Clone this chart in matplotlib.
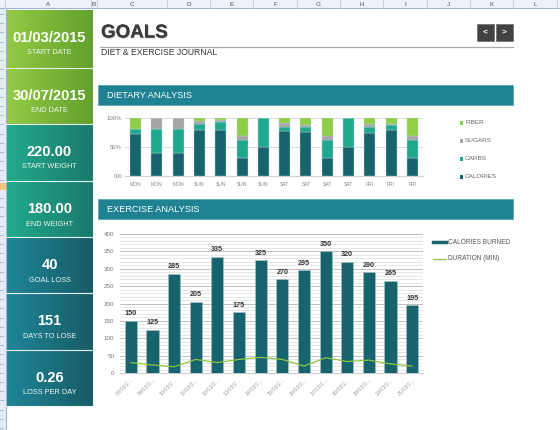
import numpy as np
import matplotlib

matplotlib.use('Agg')
import matplotlib.pyplot as plt
from matplotlib.colors import LinearSegmentedColormap
from matplotlib.patches import Rectangle
import matplotlib.patheffects as pe

plt.rcParams['font.family'] = ['Liberation Sans', 'DejaVu Sans']

W, H = 560, 430

# ── 数据 ──────────────────────────────────────────────
card_values = ['01/03/2015', '30/07/2015', '220.00', '180.00', '40', '151', '0.26']
card_labels = ['START DATE', 'END DATE', 'START WEIGHT', 'END WEIGHT',
               'GOAL LOSS', 'DAYS TO LOSE', 'LOSS PER DAY']

diet_days = ['MON', 'MON', 'MON', 'SUN', 'SUN', 'SUN', 'SUN',
             'SAT', 'SAT', 'SAT', 'SAT', 'FRI', 'FRI', 'FRI']
calories = [73, 40, 40, 79, 79, 31, 50, 78, 76, 31, 50, 74, 80, 31]
carbs = [8, 41, 41, 11, 14, 31, 50, 7, 8, 31, 50, 10, 8, 31]
sugars = [0, 19, 19, 5, 3, 7, 0, 7, 4, 7, 0, 6, 2, 7]
fiber = [19, 0, 0, 5, 4, 31, 0, 8, 12, 31, 0, 10, 10, 31]

ex_dates = ['08/03/2...', '09/03/2...', '10/03/2...', '11/03/2...', '12/03/2...',
            '13/03/2...', '14/03/2...', '15/03/2...', '16/03/2...', '17/03/2...',
            '18/03/2...', '19/03/2...', '20/03/2...', '21/03/2...']
cal_burned = [150, 125, 285, 205, 335, 175, 325, 270, 295, 350, 320, 290, 265, 195]
duration = [30, 23, 18, 39, 30, 39, 45, 39, 20, 44, 33, 37, 26, 20]

col_letters = ['A', 'B', 'C', 'D', 'E', 'F', 'G', 'H', 'I', 'J', 'K', 'L']
col_edges = [5, 91, 97, 167, 210, 253, 297, 340, 383, 427, 470, 513, 557]

C_DARK = '#17636e'
C_CARBS = '#1fa88e'
C_SUGAR = '#a6a6a6'
C_FIBER = '#8fcf46'
C_BANNER = '#1f8293'

fig = plt.figure(figsize=(W / 100, H / 100), dpi=100)
fig.patch.set_facecolor('white')

bg = fig.add_axes([0, 0, 1, 1])
bg.axis('off')


def gradient(x0, y0, x1, y1, c0, c1):
    cmap = LinearSegmentedColormap.from_list('g', [c0, c1])
    bg.imshow(np.linspace(0, 1, 64)[None, :], cmap=cmap, aspect='auto',
              extent=(x0, x1, y1, y0), zorder=1, interpolation='bilinear')


# ── 表格头 ────────────────────────────────────────────
gradient(0, 0, W, 8, '#eef2f8', '#eef2f8')
bg.plot([0, W], [8, 8], color='#9eb6ce', lw=0.8, zorder=2)
for e in col_edges:
    bg.plot([e, e], [0, 8], color='#b8c9dc', lw=0.6, zorder=2)
for i, L in enumerate(col_letters):
    cx = (col_edges[i] + col_edges[i + 1]) / 2
    bg.text(cx, 4.5, L, ha='center', va='center', fontsize=4.5, color='#4a4a4a', zorder=3)

bg.add_patch(Rectangle((0, 8), 5.5, H - 8, facecolor='#e4ecf7', edgecolor='none', zorder=1))
bg.plot([5.5, 5.5], [8, H], color='#9eb6ce', lw=0.8, zorder=2)
for y in np.arange(14, H, 9.2):
    bg.plot([0, 3], [y, y], color='#9eb6ce', lw=0.6, zorder=2)
bg.add_patch(Rectangle((0, 183), 5.5, 7, facecolor='#f5c77e', edgecolor='none', zorder=2))

# ── 左侧卡片 ──────────────────────────────────────────
card_edges = [10, 68, 124, 181, 237, 293, 350, 406]
card_cols = [('#94ca46', '#62a12c'), ('#94ca46', '#62a12c'),
             ('#21aa8b', '#1a7a6d'), ('#21aa8b', '#1a7a6d'),
             ('#1f8697', '#175c67'), ('#1f8697', '#175c67'), ('#1f8697', '#175c67')]
for i in range(7):
    t, b = card_edges[i], card_edges[i + 1]
    gradient(6, t, 93, b, *card_cols[i])
    bg.plot([6, 93], [b, b], color='#e8f0f0', lw=0.8, zorder=3)
    bg.text(49.5, t + 28, card_values[i], ha='center', va='center', fontsize=10.5,
            fontweight='bold', color='white', zorder=4)
    bg.text(49.5, t + 43, card_labels[i], ha='center', va='center', fontsize=5.3,
            color='#eef6ee', zorder=4)

# ── 标题 ─────────────────────────────────────────────
bg.text(101, 33, 'GOALS', ha='left', va='center', fontsize=13.5, fontweight='bold',
        color='#3b3b3b', zorder=4,
        path_effects=[pe.withSimplePatchShadow(offset=(0.6, -0.6), alpha=0.35), pe.Normal()])
bg.plot([100, 513], [47, 47], color='#a8a8a8', lw=0.9, zorder=3)
bg.text(101, 52.5, 'DIET & EXERCISE JOURNAL', ha='left', va='center', fontsize=6.2,
        color='#333333', zorder=4)
for x0, s in [(477, '<'), (496, '>')]:
    bg.add_patch(Rectangle((x0, 24), 16.5, 17, facecolor='#424242', edgecolor='#777777',
                           lw=0.6, zorder=3))
    bg.text(x0 + 8.2, 32.5, s, ha='center', va='center', fontsize=6, fontweight='bold',
            color='white', zorder=4)

for y0, txt in [(85, 'DIETARY ANALYSIS'), (199, 'EXERCISE ANALYSIS')]:
    bg.add_patch(Rectangle((98, y0), 415, 20, facecolor=C_BANNER, edgecolor='#4aa3b2',
                           lw=0.5, zorder=3))
    bg.text(107, y0 + 10, txt, ha='left', va='center', fontsize=6.6, color='white', zorder=4)

bg.set_xlim(0, W)
bg.set_ylim(H, 0)


def ax_at(x0, y0, x1, y1):
    a = fig.add_axes([x0 / W, 1 - y1 / H, (x1 - x0) / W, (y1 - y0) / H])
    a.set_facecolor('none')
    return a


# ── 饮食分析 ──────────────────────────────────────────
ax1 = ax_at(125, 118, 423, 176)
x = np.arange(len(diet_days))
bottom = np.zeros(len(x))
for vals, col in [(calories, C_DARK), (carbs, C_CARBS), (sugars, C_SUGAR), (fiber, C_FIBER)]:
    ax1.bar(x, vals, 0.52, bottom=bottom, color=col, edgecolor='#b9cfd2', lw=0.3, zorder=3)
    bottom += np.array(vals)
ax1.set_xlim(-0.5, len(x) - 0.5)
ax1.set_ylim(0, 100)
ax1.set_yticks([0, 50, 100])
ax1.set_yticklabels(['0%', '50%', '100%'])
ax1.set_xticks(x)
ax1.set_xticklabels(diet_days)
ax1.yaxis.grid(True, color='#d9d9d9', lw=0.7)
ax1.set_axisbelow(True)
for s in ['top', 'right', 'left']:
    ax1.spines[s].set_visible(False)
ax1.spines['bottom'].set_color('#d0d0d0')
ax1.tick_params(axis='y', length=0, labelsize=4.3, labelcolor='#777777', pad=2)
ax1.tick_params(axis='x', length=0, labelsize=3.6, labelcolor='#888888', pad=4)

for y, lab, col in [(123, 'FIBER', C_FIBER), (141, 'SUGARS', C_SUGAR),
                    (159, 'CARBS', C_CARBS), (177, 'CALORIES', C_DARK)]:
    bg.add_patch(Rectangle((460, y - 2), 3, 4, facecolor=col, edgecolor='none', zorder=4))
    bg.text(465, y, lab, ha='left', va='center', fontsize=4.6, color='#666666', zorder=4)

# ── 运动分析 ──────────────────────────────────────────
ax2 = ax_at(120, 234, 423, 373)
x2 = np.arange(len(ex_dates))
ax2.bar(x2, cal_burned, 0.56, color=C_DARK, edgecolor='#a9c6ca', lw=0.4, zorder=3)
ax2.plot(x2, duration, color='#8cc63f', lw=0.9, zorder=4)
for xi, v in zip(x2, cal_burned):
    ax2.annotate(str(v), (xi, v), xytext=(0, 2.5), textcoords='offset points',
                 ha='center', va='bottom', fontsize=5.2, fontweight='bold',
                 color='#333333', zorder=5)
ax2.set_xlim(-0.5, len(x2) - 0.5)
ax2.set_ylim(0, 400)
ax2.set_yticks(np.arange(0, 401, 50))
ax2.set_yticks(np.arange(0, 401, 10), minor=True)
ax2.yaxis.grid(True, which='major', color='#bdbdbd', lw=0.7)
ax2.yaxis.grid(True, which='minor', color='#e2e2e2', lw=0.6)
ax2.set_axisbelow(True)
ax2.set_xticks(x2)
ax2.set_xticklabels(ex_dates, rotation=45, ha='right', rotation_mode='anchor')
for s in ['top', 'right', 'left']:
    ax2.spines[s].set_visible(False)
ax2.spines['bottom'].set_color('#c8c8c8')
ax2.tick_params(axis='y', which='both', length=0, labelsize=4.5, labelcolor='#777777', pad=4)
ax2.tick_params(axis='x', length=0, labelsize=3.8, labelcolor='#999999', pad=3)

bg.plot([433, 446], [242, 242], color=C_DARK, lw=2.5, zorder=4)
bg.text(447.5, 242, 'CALORIES BURNED', ha='left', va='center', fontsize=4.7,
        color='#555555', zorder=4)
bg.plot([433, 446], [259, 259], color='#8cc63f', lw=0.8, zorder=4)
bg.text(447.5, 259, 'DURATION (MIN)', ha='left', va='center', fontsize=4.7,
        color='#555555', zorder=4)

fig.savefig('out.png', dpi=100)
